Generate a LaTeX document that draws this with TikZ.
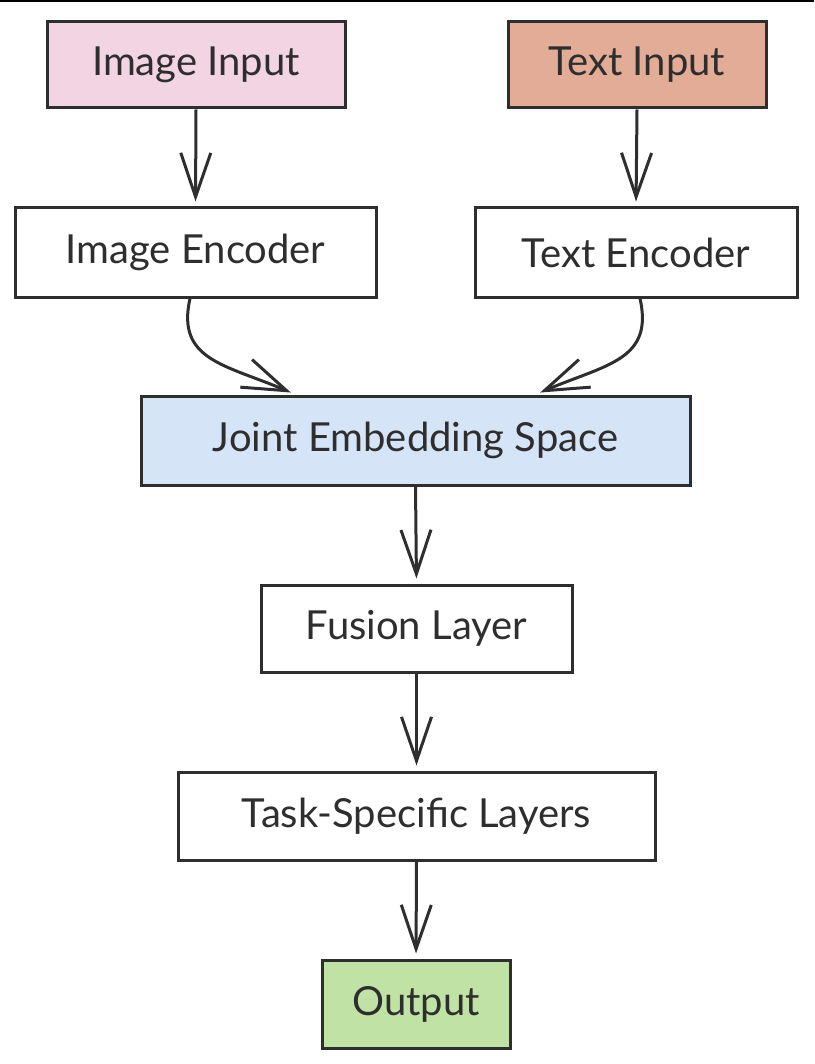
\documentclass[tikz,border=0pt]{standalone}
\usepackage{fontspec}
\setmainfont{Lato}
\usetikzlibrary{arrows.meta}
\definecolor{ink}{HTML}{2E2E2E}
\definecolor{pinkfill}{HTML}{F2D4E3}
\definecolor{salmonfill}{HTML}{E2AC96}
\definecolor{bluefill}{HTML}{D6E4F7}
\definecolor{greenfill}{HTML}{C0E3A5}
\tikzset{
  box/.style={draw=ink, line width=3pt, rectangle, inner sep=0pt, text=ink,
    font=\fontsize{40}{46}\selectfont, fill=white},
  conn/.style={draw=ink, line width=3pt, shorten >=5pt,
    -{Straight Barb[length=44pt,width=30pt,line width=3pt]}},
}
\begin{document}
\begin{tikzpicture}[x=1pt,y=-1pt]
\useasboundingbox (0,0) rectangle (814,1064);
\fill[black] (0,0) rectangle (814,2);
\node[box, fill=pinkfill, minimum width=298pt, minimum height=86pt] (imgin) at (196,65) {Image Input};
\node[box, fill=salmonfill, minimum width=258pt, minimum height=86pt] (txtin) at (637,65) {Text Input};
\node[box, minimum width=361pt, minimum height=89pt] (imgenc) at (195.5,252.5) {Image Encoder};
\node[box, minimum width=322pt, minimum height=89pt] (txtenc) at (636,252.5) {Text Encoder};
\node[box, fill=bluefill, minimum width=549pt, minimum height=89pt] (joint) at (415.5,440.5) {Joint Embedding Space};
\node[box, minimum width=311pt, minimum height=87pt] (fusion) at (416.5,628.5) {Fusion Layer};
\node[box, minimum width=477pt, minimum height=88pt] (task) at (416.5,816) {Task-Specific Layers};
\node[box, fill=greenfill, minimum width=188pt, minimum height=88pt] (out) at (416,1004) {Output};
\draw[conn] (imgin.south) -- (imgenc.north);
\draw[conn] (txtin.south) -- (txtenc.north);
\draw[conn] ([xshift=-5.5pt]imgenc.south) .. controls +(-14,62) and +(-70,-30) .. ([xshift=-120pt]joint.north);
\draw[conn] ([xshift=4pt]txtenc.south) .. controls +(14,62) and +(70,-30) .. ([xshift=120pt]joint.north);
\draw[conn] (joint.south) -- (fusion.north);
\draw[conn] (fusion.south) -- (task.north);
\draw[conn] (task.south) -- (out.north);
\end{tikzpicture}
\end{document}
